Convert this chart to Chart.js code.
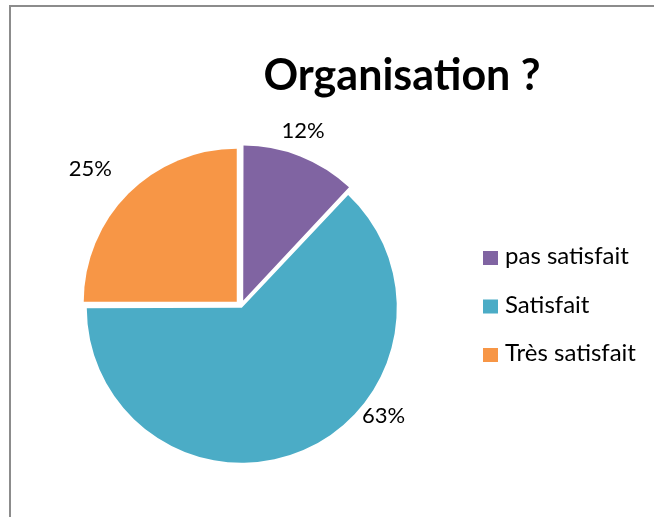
<!DOCTYPE html>
<html>
<head>
<meta charset="utf-8">
<script src="https://cdn.jsdelivr.net/npm/chart.js@4/dist/chart.umd.min.js"></script>
<style>
  html, body { margin: 0; padding: 0; background: #fff; }
  #wrap { position: relative; width: 654px; height: 517px; overflow: hidden; }
  #frame { position: absolute; left: 9px; top: 5px; width: 700px; height: 600px;
           border-top: 2px solid #8c8c8c; border-left: 2px solid #8c8c8c; box-sizing: border-box; }
  #pie_chart { position: absolute; left: 0; top: 0; }
</style>
</head>
<body>
<div id="wrap">
  <div id="frame"></div>
  <canvas id="pie_chart" width="654" height="517"></canvas>
</div>
<script>
const chart_title = "Organisation ?";
const pie_labels = ["pas satisfait", "Satisfait", "Très satisfait"];
const pie_values = [12, 63, 25];
const pie_colors = ["#8064A2", "#4BACC6", "#F79646"];

// labels outside the pie, placed from each arc's centre and radius
const outside_labels = {
  id: "outside_labels",
  afterDatasetsDraw(chart, args, opts) {
    const ctx = chart.ctx;
    const meta = chart.getDatasetMeta(0);
    const total = pie_values.reduce((a, b) => a + b, 0);
    ctx.save();
    ctx.font = "22px Lato";
    ctx.fillStyle = "#000";
    ctx.textAlign = "center";
    ctx.textBaseline = "middle";
    meta.data.forEach((arc, i) => {
      const p = arc.getProps(["x", "y", "startAngle", "endAngle", "outerRadius"], true);
      let a = (p.startAngle + p.endAngle) / 2;
      if (opts.angle[i] !== null) a = opts.angle[i] * Math.PI / 180 - Math.PI / 2;
      const r = p.outerRadius + opts.dist[i];
      const pct = Math.round(pie_values[i] / total * 100) + "%";
      ctx.fillText(pct, p.x + Math.cos(a) * r, p.y + Math.sin(a) * r);
    });
    ctx.restore();
  },
};

// title and legend drawn by hand so the pie keeps its place
const title_legend = {
  id: "title_legend",
  afterDraw(chart) {
    const ctx = chart.ctx;
    ctx.save();
    ctx.fillStyle = "#000";
    ctx.textBaseline = "alphabetic";
    ctx.textAlign = "center";
    ctx.font = "bold 43px Lato";
    ctx.fillText(chart_title, 402, 90);
    ctx.textAlign = "left";
    ctx.font = "24px Lato";
    pie_labels.forEach((lab, i) => {
      const base = 264 + i * 48.5;
      ctx.fillStyle = pie_colors[i];
      ctx.fillRect(483, base - 13, 15, 14);
      ctx.fillStyle = "#000";
      ctx.fillText(lab, 505, base);
    });
    ctx.restore();
  },
};

const pie_ctx = document.getElementById("pie_chart");
const pie_chart = new Chart(pie_ctx, {
  type: "pie",
  data: {
    labels: pie_labels,
    datasets: [
      {
        data: pie_values,
        backgroundColor: pie_colors,
        borderWidth: 0,
        offset: [24, 8, 24],
      },
    ],
  },
  options: {
    responsive: false,
    animation: false,
    radius: 153,
    layout: { padding: { left: 84, right: 256, top: 149, bottom: 54 } },
    plugins: {
      legend: { display: false },
      title: { display: false },
      tooltip: { enabled: false },
      outside_labels: { angle: [19.5, 127.6, 312.4], dist: [33, 27, 51] },
    },
  },
  plugins: [outside_labels, title_legend],
});
</script>
</body>
</html>
